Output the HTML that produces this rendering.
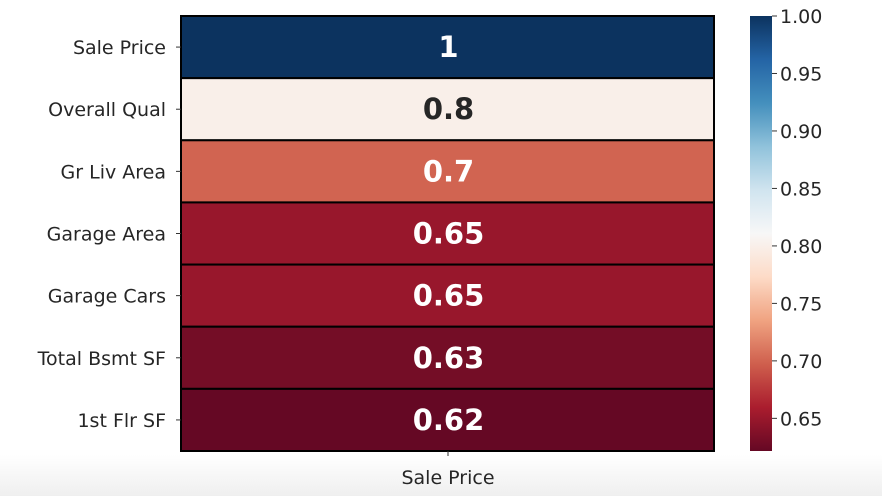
<!DOCTYPE html>
<html><head><meta charset="utf-8"><style>
body{margin:0;width:882px;height:496px;overflow:hidden;background:#fff;font-family:"DejaVu Sans","Liberation Sans",sans-serif;}
</style></head><body>
<svg id="chart" width="882" height="496" xmlns="http://www.w3.org/2000/svg">
<defs>
<linearGradient id="bg" x1="0" y1="0" x2="0" y2="1"><stop offset="0" stop-color="#ffffff"/><stop offset="1" stop-color="#efefef"/></linearGradient>
<linearGradient id="cbgrad" x1="0" y1="1" x2="0" y2="0"></linearGradient>
</defs>
<rect x="0" y="455" width="882" height="41" fill="url(#bg)"/>
<g id="cells"></g>
<g id="cbar"></g>
</svg>
<script>
const rowLabels=["Sale Price","Overall Qual","Gr Liv Area","Garage Area","Garage Cars","Total Bsmt SF","1st Flr SF"];
const colLabels=["Sale Price"];
const values=[1,0.8,0.7,0.65,0.65,0.63,0.62];
const valueText=["1","0.8","0.7","0.65","0.65","0.63","0.62"];
const cbTicks=[0.65,0.70,0.75,0.80,0.85,0.90,0.95,1.00];
const vmin=0.6216,vmax=1.0;
const NS="http://www.w3.org/2000/svg";
const stops=["#67001f","#b2182b","#d6604d","#f4a582","#fddbc7","#f7f7f7","#d1e5f0","#92c5de","#4393c3","#2166ac","#053061"];
function hex(h){return [1,3,5].map(i=>parseInt(h.substr(i,2),16));}
function cmap(v){let t=Math.max(0,Math.min(1,(v-vmin)/(vmax-vmin)))*10;let i=Math.min(9,Math.floor(t)),f=t-i;
const a=hex(stops[i]),b=hex(stops[i+1]);let c=a.map((x,k)=>x+(b[k]-x)*f);
const lum=(0.299*c[0]+0.587*c[1]+0.114*c[2]);
const mix=0.12*Math.max(0,1-lum/255*1.1);
c=c.map(x=>Math.round(x*(1-mix)+80*mix));
return {css:`rgb(${c[0]},${c[1]},${c[2]})`,lum:lum};}
const X0=181,X1=714,Y0=16,Y1=451,rh=(Y1-Y0)/rowLabels.length;
function mk(tag,attrs,parent){const e=document.createElementNS(NS,tag);for(const k in attrs)e.setAttribute(k,attrs[k]);parent.appendChild(e);return e;}
const cells=document.getElementById('cells');
values.forEach((v,i)=>{
 const y=Y0+i*rh;const c=cmap(v);
 const r=mk('rect',{x:X0,y:y,width:X1-X0,height:rh,fill:c.css,stroke:'#000','stroke-width':2},cells);
 
 
 const t=mk('text',{x:(X0+X1)/2+1,y:y+rh/2+10,'text-anchor':'middle','font-size':29,'font-weight':'bold',fill:c.lum>150?'#262626':'#ffffff'},cells);
 t.textContent=valueText[i];
 
 
 const tk=mk('line',{x1:X0-5,x2:X0,y1:y+rh/2,y2:y+rh/2,stroke:'#333','stroke-width':1},cells);
 
 
 const l=mk('text',{x:X0-15,y:y+rh/2+7,'text-anchor':'end','font-size':19,fill:'#262626'},cells);
 l.textContent=rowLabels[i];
 
 
});
mk('line',{x1:448,x2:448,y1:Y1,y2:Y1+5,stroke:'#333'},cells);
const xl=mk('text',{x:448,y:484,'text-anchor':'middle','font-size':19,fill:'#262626'},cells);
xl.textContent=colLabels[0];


const g=document.getElementById('cbgrad');
for(let k=0;k<=20;k++){const v=vmin+(vmax-vmin)*k/20;mk('stop',{offset:k/20,'stop-color':cmap(v).css},g);}
const cb=document.getElementById('cbar');
const CX=750,CW=22;
const cr=mk('rect',{x:CX,y:Y0,width:CW,height:Y1-Y0,fill:'url(#cbgrad)'},cb);


cbTicks.forEach(v=>{
 const y=Y1-(v-vmin)/(vmax-vmin)*(Y1-Y0);
 mk('line',{x1:CX+CW,x2:CX+CW+5,y1:y,y2:y,stroke:'#333'},cb);
 const t=mk('text',{x:CX+CW+8,y:y+7,'font-size':19,fill:'#262626'},cb);
 t.textContent=v.toFixed(2);
 
 
});
</script>
</body></html>
